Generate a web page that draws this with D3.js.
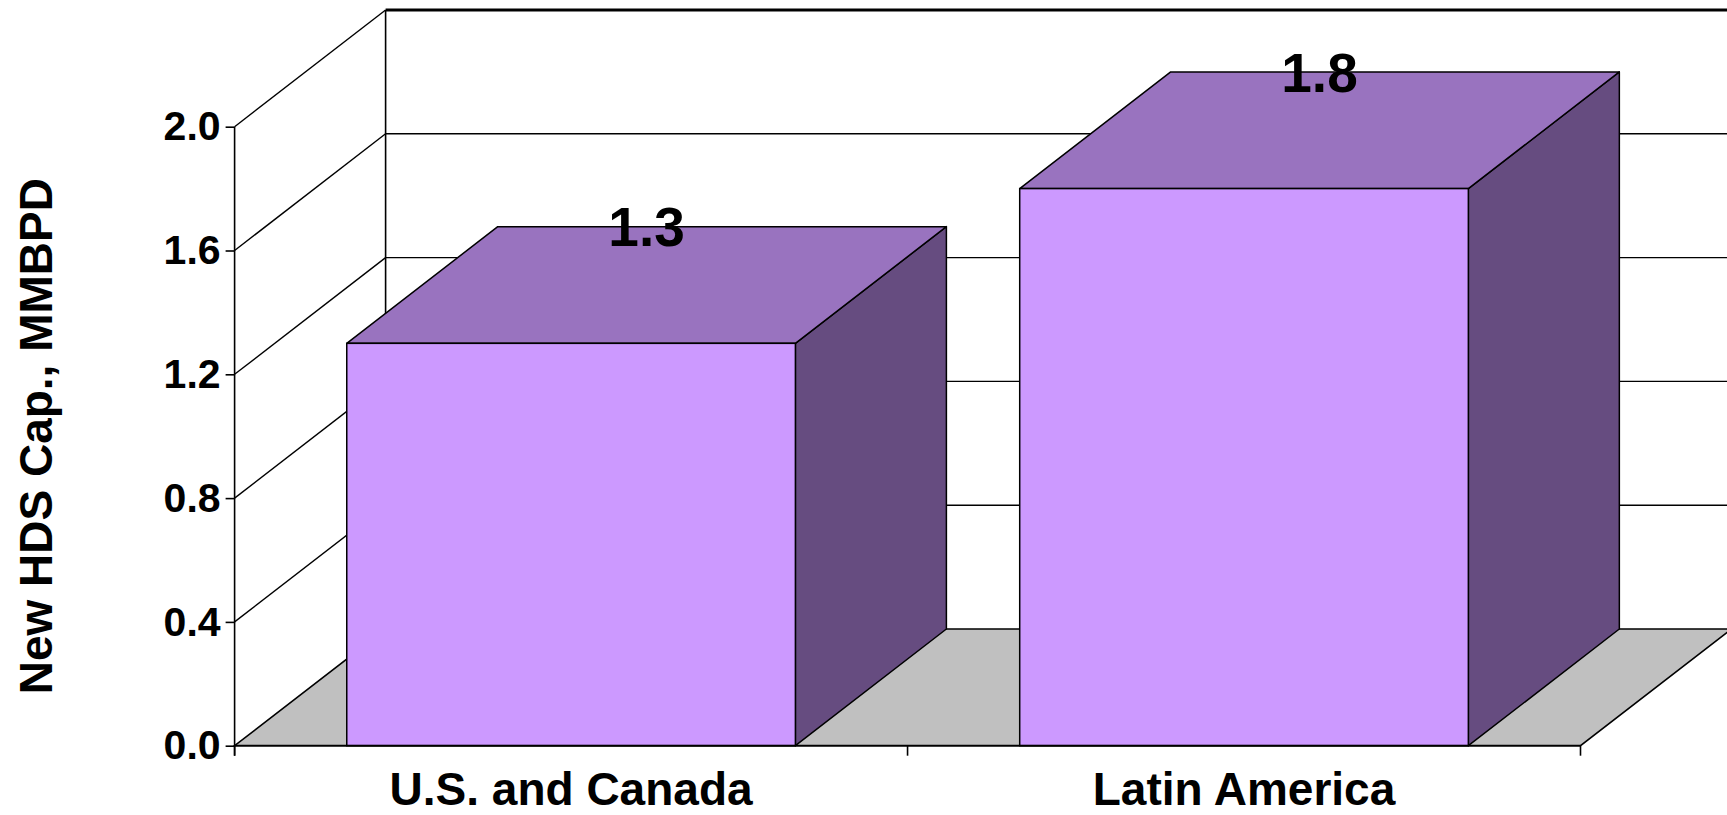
<!DOCTYPE html>
<html>
<head>
<meta charset="utf-8">
<script src="https://cdn.jsdelivr.net/npm/d3@7"></script>
<style>
  html, body { margin: 0; padding: 0; background: #ffffff; }
  svg { display: block; }
  text { font-family: "Liberation Sans", Arial, sans-serif; font-weight: bold; fill: #000; }
</style>
</head>
<body>
<svg id="chart" width="1727" height="815"></svg>
<script>
// ---- data ----
const categories = ["U.S. and Canada", "Latin America"];
const values = [1.3, 1.8];
const valueLabels = ["1.3", "1.8"];
const yTicks = [0.0, 0.4, 0.8, 1.2, 1.6, 2.0];
const yTitle = "New HDS Cap., MMBPD";

// ---- layout ----
const W = 1727, H = 815;
const x0 = 234.6, x1 = 1580.5;     // front plane horizontal extent
const yBottom = 745.7, yTop = 126.7; // front plane vertical extent
const DX = 151, DY = -116.7;         // depth offset (front -> back)

const svg = d3.select("#chart");

const x = d3.scaleBand()
  .domain(categories)
  .range([x0, x1])
  .paddingInner(1 / 3)
  .paddingOuter(1 / 6);

const y = d3.scaleLinear().domain([0, 2]).range([yBottom, yTop]);

const colFront = "#CC99FF", colTop = "#9973BF", colSide = "#664C80", colFloor = "#C0C0C0";

const line = d3.line();

// back wall (white)
svg.append("path")
  .attr("d", line([[x0 + DX, y(2) + DY], [x1 + DX, y(2) + DY], [x1 + DX, y(0) + DY], [x0 + DX, y(0) + DY]]) + "Z")
  .attr("fill", "#fff").attr("stroke", "none");

// gridlines on back wall and side wall
const grid = svg.append("g").attr("class", "grid");
yTicks.forEach(t => {
  if (t === 0) return;
  const yy = y(t);
  grid.append("line")
    .attr("x1", x0).attr("y1", yy).attr("x2", x0 + DX).attr("y2", yy + DY)
    .attr("stroke", "#000").attr("stroke-width", 1.4);
  grid.append("line")
    .attr("x1", x0 + DX).attr("y1", yy + DY).attr("x2", x1 + DX).attr("y2", yy + DY)
    .attr("stroke", "#000").attr("stroke-width", t === 2 ? 3 : 1.4);
});
// back wall left edge
svg.append("line")
  .attr("x1", x0 + DX).attr("y1", y(2) + DY).attr("x2", x0 + DX).attr("y2", y(0) + DY)
  .attr("stroke", "#000").attr("stroke-width", 1.6);

// floor
svg.append("path")
  .attr("d", line([[x0, y(0)], [x1, y(0)], [x1 + DX, y(0) + DY], [x0 + DX, y(0) + DY]]) + "Z")
  .attr("fill", colFloor).attr("stroke", "#000").attr("stroke-width", 1.6);

// bars
const bars = svg.append("g").attr("class", "bars");
categories.forEach((c, i) => {
  const bx = x(c), bw = x.bandwidth();
  const yt = y(values[i]), yb = y(0);
  const g = bars.append("g");
  g.append("path")
    .attr("d", line([[bx + bw, yt], [bx + bw + DX, yt + DY], [bx + bw + DX, yb + DY], [bx + bw, yb]]) + "Z")
    .attr("fill", colSide).attr("stroke", "#000").attr("stroke-width", 1.5).attr("stroke-linejoin", "round");
  g.append("path")
    .attr("d", line([[bx, yt], [bx + DX, yt + DY], [bx + bw + DX, yt + DY], [bx + bw, yt]]) + "Z")
    .attr("fill", colTop).attr("stroke", "#000").attr("stroke-width", 1.5).attr("stroke-linejoin", "round");
  g.append("rect")
    .attr("x", bx).attr("y", yt).attr("width", bw).attr("height", yb - yt)
    .attr("fill", colFront).attr("stroke", "#000").attr("stroke-width", 1.5);
});

// value labels
svg.append("g").selectAll("text")
  .data(categories)
  .join("text")
  .attr("x", (c) => x(c) + x.bandwidth() / 2 + DX / 2)
  .attr("y", (c, i) => y(values[i]) + DY)
  .attr("dy", "0.36em")
  .attr("text-anchor", "middle")
  .attr("font-size", 55)
  .text((c, i) => valueLabels[i]);

// y axis
const yAxis = d3.axisLeft(y)
  .tickValues(yTicks)
  .tickFormat(d3.format(".1f"))
  .tickSizeInner(9)
  .tickSizeOuter(0)
  .tickPadding(5);
const gy = svg.append("g").attr("transform", `translate(${x0},0)`).call(yAxis);
gy.select(".domain").attr("stroke", "#000").attr("stroke-width", 1.6)
  .attr("d", `M0,${yTop}V${yBottom + 10}`);
gy.selectAll(".tick line").attr("stroke", "#000").attr("stroke-width", 1.6);
gy.selectAll(".tick text")
  .attr("font-size", 41)
  .attr("font-family", "'Liberation Sans', Arial, sans-serif")
  .attr("font-weight", "bold")
  .attr("fill", "#000");

// x axis
const xAxis = d3.axisBottom(x).tickSize(0).tickPadding(0);
const gx = svg.append("g").attr("transform", `translate(0,${yBottom})`).call(xAxis);
gx.select(".domain").attr("stroke", "#000").attr("stroke-width", 1.8)
  .attr("d", `M${x0},0H${x1}`);
gx.selectAll(".tick text")
  .attr("y", 59.5).attr("dy", 0)
  .attr("font-size", 46)
  .attr("font-family", "'Liberation Sans', Arial, sans-serif")
  .attr("font-weight", "bold")
  .attr("fill", "#000");
// category boundary tick marks
const bounds = categories.map(c => x(c) - x.step() * x.paddingInner() / 2).concat([x1]);
gx.selectAll(".btick")
  .data(bounds)
  .join("line")
  .attr("class", "btick")
  .attr("x1", d => d).attr("x2", d => d)
  .attr("y1", 0).attr("y2", 10)
  .attr("stroke", "#000").attr("stroke-width", 1.6);

// y axis title
svg.append("text")
  .attr("transform", `translate(52,${(yTop + yBottom) / 2}) rotate(-90)`)
  .attr("text-anchor", "middle")
  .attr("font-size", 46)
  .text(yTitle);
</script>
</body>
</html>
